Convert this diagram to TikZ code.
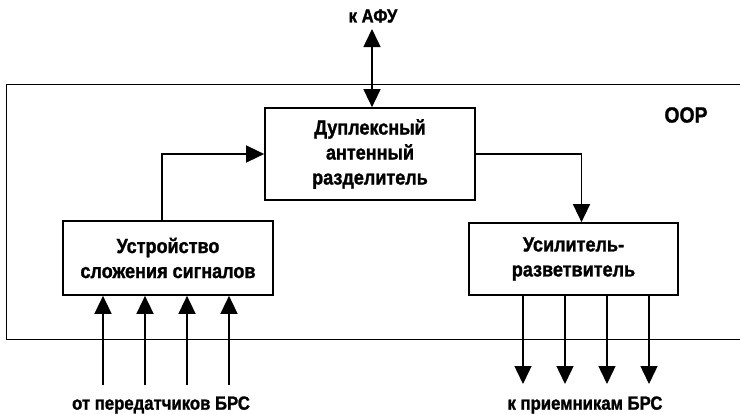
\documentclass[tikz,border=0pt]{standalone}
\usepackage{fontspec}
\setmainfont{Liberation Sans}[BoldFeatures={FakeStretch=0.88, FakeBold=1.3}]
\usetikzlibrary{arrows.meta,positioning}

\tikzset{
  blok/.style={draw, line width=1.7pt, align=center, inner sep=0pt,
    font=\bfseries\fontsize{20.5}{25}\selectfont},
  strelka/.style={line width=1.5pt, -{Triangle[width=17pt,length=18pt]}},
  dvestrelki/.style={line width=1.5pt, {Triangle[width=17pt,length=18pt]}-{Triangle[width=17pt,length=18pt]}},
  metka/.style={font=\bfseries\fontsize{19}{20}\selectfont}
}

\begin{document}
\begin{tikzpicture}[x=1pt, y=-1pt]
            \useasboundingbox (0,0) rectangle (740,415);

            % oborudovanie (ramka)
            \draw[line width=0.9pt] (740,84) -- (6,84) -- (6,339) -- (740,339);
            \node[metka, font=\bfseries\fontsize{22}{22}\selectfont] (oor) at (686,115) {ООР};

            \node[blok, minimum width=210pt, minimum height=92pt] (duplex) at (370,154)
                {Дуплексный\\антенный\\разделитель};
            \node[blok, minimum width=210pt, minimum height=74pt] (adder) at (168,258)
                {Устройство\\сложения сигналов};
            \node[blok, minimum width=209pt, minimum height=72pt] (splitter) at (573.5,259)
                {Усилитель-\\разветвитель};

            \draw[strelka] ([xshift=-6pt]adder.north) |- (duplex.west);
            \draw[strelka] (duplex.east) -| ([xshift=8pt]splitter.north);

            % k AFU
            \coordinate (afu) at (372,29);
            \node[metka] (afulabel) at (373,16) {к АФУ};
            \draw[dvestrelki] (afu) -- (afu |- duplex.north);

            % vhody i vyhody
            \foreach \x [count=\i] in {103,145,187,229} {
                \coordinate (in\i) at (\x,385);
                \draw[strelka] (in\i) -- (in\i |- adder.south);
            }
            \foreach \x [count=\i] in {523,565,607,649} {
                \coordinate (out\i) at (\x,384);
                \draw[strelka] (out\i |- splitter.south) -- (out\i);
            }
            \node[metka] (ot) at (161,405) {от передатчиков БРС};
            \node[metka] (k) at (585,405) {к приемникам БРС};
        \end{tikzpicture}
\end{document}
